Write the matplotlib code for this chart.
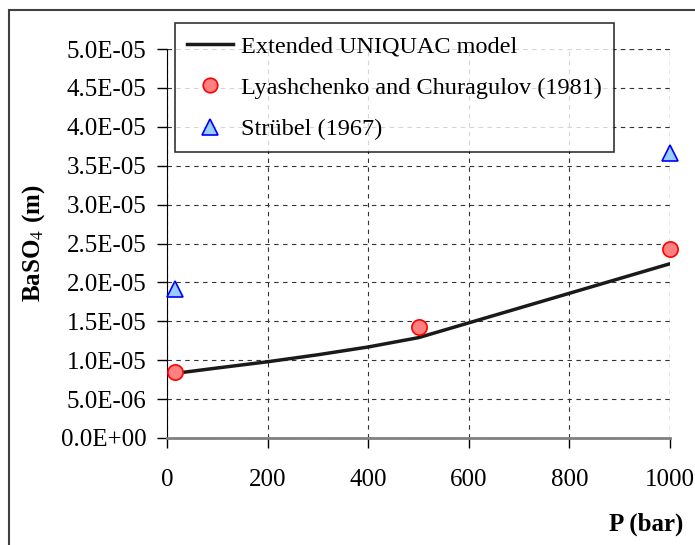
import matplotlib.pyplot as plt
from matplotlib.patches import Rectangle

# Extended UNIQUAC model curve
model_p = [15, 100, 200, 300, 400, 500, 600, 700, 800, 900, 1000]
model_m = [8.3e-6, 9.0e-6, 9.8e-6, 10.7e-6, 11.7e-6, 12.9e-6, 14.8e-6, 16.7e-6, 18.6e-6, 20.5e-6, 22.4e-6]

# Lyashchenko and Churagulov (1981)
lyash_p = [15, 500, 1000]
lyash_m = [8.5e-6, 14.3e-6, 24.3e-6]

# Strübel (1967)
strubel_p = [15, 1000]
strubel_m = [19.1e-6, 36.6e-6]

yticks = [0, 5e-6, 1e-5, 1.5e-5, 2e-5, 2.5e-5, 3e-5, 3.5e-5, 4e-5, 4.5e-5, 5e-5]
ytick_labels = ["0.0E+00", "5.0E-06", "1.0E-05", "1.5E-05", "2.0E-05", "2.5E-05",
                "3.0E-05", "3.5E-05", "4.0E-05", "4.5E-05", "5.0E-05"]
xticks = [0, 200, 400, 600, 800, 1000]

plt.rcParams['font.family'] = ['Liberation Serif', 'DejaVu Serif']
plt.rcParams['mathtext.fontset'] = 'stix'

fig = plt.figure(figsize=(6.95, 5.45), dpi=100)
fig.patches.append(Rectangle((9 / 695, -0.1), 1.2, 1 - 10 / 545 + 0.1,
                             transform=fig.transFigure, fill=False,
                             edgecolor='#404040', linewidth=1.5))

ax = fig.add_axes([167 / 695, 1 - 438 / 545, (670 - 167) / 695, (438 - 49) / 545])

ax.plot(model_p, model_m, color='#1a1a1a', linewidth=2.5,
        label='Extended UNIQUAC model', zorder=3)
ax.plot(lyash_p, lyash_m, linestyle='none', marker='o', markersize=11,
        markerfacecolor='#ff8080', markeredgecolor='#ff0000', markeredgewidth=1.2,
        label='Lyashchenko and Churagulov (1981)', zorder=4, clip_on=False)
ax.plot(strubel_p, strubel_m, linestyle='none', marker='^', markersize=12,
        markerfacecolor='#99ccff', markeredgecolor='#0000ff', markeredgewidth=1.2,
        label='Strübel (1967)', zorder=4, clip_on=False)

ax.set_xlim(0, 1000)
ax.set_ylim(0, 5e-5)
ax.set_xticks(xticks)
ax.set_yticks(yticks)
ax.set_yticklabels(ytick_labels)
ax.tick_params(axis='both', labelsize=18, direction='out', length=7, width=1)
ax.tick_params(axis='x', pad=15)
ax.tick_params(axis='y', pad=8)

ax.grid(True, linestyle=(0, (4, 4)), color='#333333', linewidth=0.8)
ax.set_axisbelow(True)
for side in ['top', 'right']:
    ax.spines[side].set_visible(False)
ax.spines['left'].set_color('black')
ax.spines['bottom'].set_color('#808080')
ax.spines['bottom'].set_linewidth(2)

# grid lines at the upper/right limits
ax.axhline(5e-5, linestyle=(0, (4, 4)), color='#333333', linewidth=0.8, zorder=1)
ax.axvline(1000, linestyle=(0, (4, 4)), color='#333333', linewidth=0.8, zorder=1)

fig.text(34 / 695, 1 - 243 / 545, r'BaSO$_4$ (m)', rotation=90, fontsize=18,
         fontweight='bold', ha='center', va='center')
fig.text(683 / 695, 1 - 524 / 545, 'P (bar)', fontsize=18, fontweight='bold',
         ha='right', va='center')

leg = ax.legend(loc='upper left', bbox_to_anchor=(8 / 503, 1 + 26 / 389),
                prop={'size': 17.5}, frameon=True, fancybox=False, edgecolor='black',
                borderpad=0.5, labelspacing=0.8, handlelength=1.9,
                handletextpad=0.3, borderaxespad=0, markerscale=0.95)
leg.get_frame().set_linewidth(1.2)

fig.savefig('out.png', dpi=100)
